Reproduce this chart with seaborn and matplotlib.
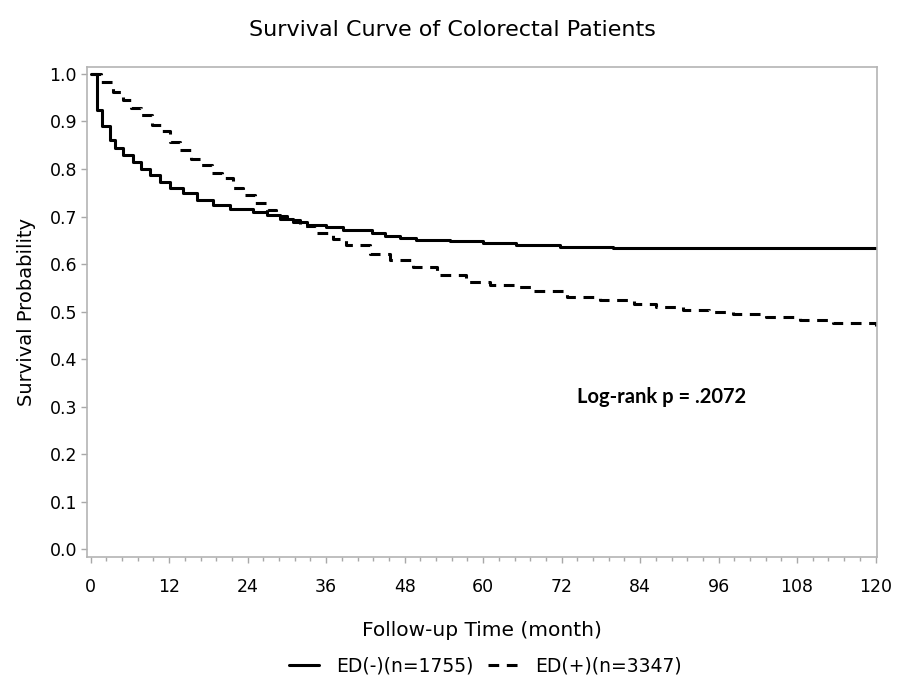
import matplotlib
matplotlib.use("Agg")
import matplotlib.pyplot as plt
import seaborn as sns
import pandas as pd
from matplotlib.lines import Line2D
from matplotlib.ticker import AutoMinorLocator

# ED(-) group, Kaplan-Meier steps (month, survival)
neg_time = [0, 0.9, 1.8, 3.0, 3.7, 4.9, 6.5, 7.7, 9.0, 10.6, 12.1, 14.1, 16.2, 18.7,
            21.3, 24.8, 26.9, 28.9, 31.0, 33.0, 36.0, 38.6, 43.0, 45.0, 47.3, 49.8,
            54.9, 60.0, 65.1, 71.7, 79.8, 120]
neg_surv = [1.000, 0.924, 0.891, 0.861, 0.844, 0.829, 0.815, 0.801, 0.787, 0.773,
            0.759, 0.749, 0.735, 0.724, 0.715, 0.710, 0.703, 0.694, 0.688, 0.682,
            0.677, 0.672, 0.666, 0.660, 0.654, 0.651, 0.649, 0.644, 0.640, 0.636,
            0.633, 0.633]

# ED(+) group
pos_time = [0, 1.6, 3.4, 4.9, 6.2, 7.7, 9.3, 10.8, 12.1, 13.6, 15.4, 16.9, 18.5, 20.0,
            21.8, 23.3, 25.1, 26.9, 28.4, 30.0, 32.0, 34.5, 37.0, 39.1, 42.7, 45.7,
            49.3, 52.9, 57.4, 61.0, 65.1, 67.7, 72.8, 77.9, 83.0, 86.5, 90.6, 94.5,
            98.2, 103.3, 108.4, 113.5, 120]
pos_surv = [1.000, 0.984, 0.963, 0.945, 0.928, 0.914, 0.893, 0.879, 0.857, 0.840,
            0.822, 0.808, 0.791, 0.780, 0.759, 0.745, 0.728, 0.714, 0.702, 0.692,
            0.680, 0.665, 0.652, 0.640, 0.622, 0.608, 0.594, 0.577, 0.563, 0.556,
            0.552, 0.544, 0.531, 0.524, 0.516, 0.510, 0.504, 0.499, 0.494, 0.488,
            0.482, 0.475, 0.470]

labels = ["ED(-)(n=1755)", "ED(+)(n=3347)"]
x_ticks = list(range(0, 121, 12))
y_ticks = [i / 10 for i in range(11)]

sns.set_style("white")
plt.rcParams["font.family"] = ["DejaVu Sans"]
plt.rcParams["text.color"] = "black"
plt.rcParams["axes.labelcolor"] = "black"

neg_df = pd.DataFrame({"time": neg_time, "surv": neg_surv})
pos_df = pd.DataFrame({"time": pos_time, "surv": pos_surv})

fig = plt.figure(figsize=(9.04, 6.82), dpi=100)
ax = fig.add_axes([0.096, 0.183, 0.874, 0.719])

sns.lineplot(data=neg_df, x="time", y="surv", ax=ax, color="black", lw=2.2,
             drawstyle="steps-post", estimator=None)
sns.lineplot(data=pos_df, x="time", y="surv", ax=ax, color="black", lw=2.2,
             drawstyle="steps-post", estimator=None)
ax.lines[-1].set_dashes((3.5, 2.5))

ax.set_xlim(-0.6, 120.2)
ax.set_ylim(-0.017, 1.015)
ax.set_xticks(x_ticks)
ax.set_yticks(y_ticks)
ax.set_yticklabels([f"{v:.1f}" for v in y_ticks])
ax.xaxis.set_minor_locator(AutoMinorLocator(5))
ax.tick_params(axis="both", which="major", direction="out", length=4, width=1,
               color="#a8a8a8", labelsize=12.5, labelcolor="black", pad=3,
               bottom=True, left=True)
ax.tick_params(axis="x", which="minor", direction="out", length=3, width=1,
               color="#a8a8a8", bottom=True)
ax.tick_params(axis="x", which="major", pad=11)
for sp in ax.spines.values():
    sp.set_color("#b4b4b4")
    sp.set_linewidth(1.2)

ax.set_xlabel("Follow-up Time (month)", fontsize=14.5, labelpad=18)
ax.set_ylabel("Survival Probability", fontsize=14, labelpad=10)
fig.text(0.5, 0.956, "Survival Curve of Colorectal Patients", ha="center",
         va="center", fontsize=16)

ax.text(0.727, 0.327, "Log-rank p = .2072", transform=ax.transAxes,
        fontsize=14.5, fontweight="bold", family="Lato", ha="center", va="center")

handles = [Line2D([0], [0], color="black", lw=2.2),
           Line2D([0], [0], color="black", lw=2.2, dashes=(3.5, 2.5))]
fig.legend(handles, labels, loc="center", bbox_to_anchor=(0.537, 0.024), ncol=2,
           frameon=False, fontsize=13.5, handlelength=1.6, columnspacing=0.8,
           handletextpad=0.9)

fig.savefig("out.png", dpi=100)
